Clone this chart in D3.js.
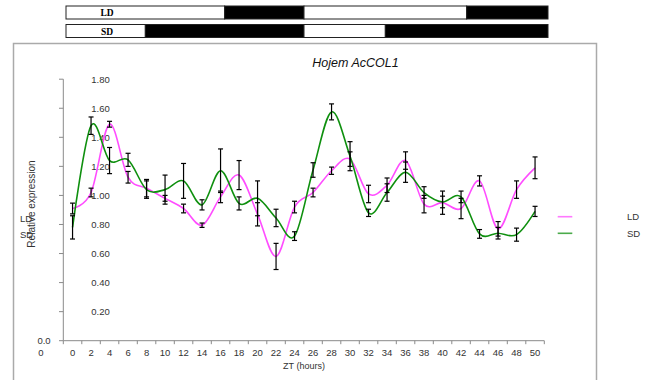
<!DOCTYPE html>
<html>
<head>
<meta charset="utf-8">
<script src="https://cdn.jsdelivr.net/npm/d3@7"></script>
<style>
  html, body { margin: 0; padding: 0; background: #fff; }
  svg { display: block; font-family: "Liberation Sans", Arial, sans-serif; }
</style>
</head>
<body>
<svg id="chart" width="651" height="380"></svg>
<script>
// Sampling times (ZT, hours)
const zt = [0,2,4,6,8,10,12,14,16,18,20,22,24,26,28,30,32,34,36,38,40,42,44,46,48,50];

// Relative expression, long day (LD) and short day (SD), with error bars
const ldValues = [0.91,1.02,1.49,1.125,1.05,0.98,0.91,0.795,0.99,1.14,0.87,0.58,0.92,1.02,1.17,1.25,1.01,1.07,1.24,0.94,0.95,0.91,1.10,0.77,1.04,1.19];
const ldErrors = [0.037,0.03,0.02,0.04,0.06,0.02,0.03,0.015,0.04,0.10,0.08,0.09,0.04,0.03,0.025,0.05,0.06,0.05,0.06,0.06,0.08,0.07,0.035,0.05,0.06,0.075];
const sdValues = [0.78,1.48,1.24,1.245,1.04,1.04,1.10,0.935,1.17,0.945,0.98,0.845,0.72,1.175,1.575,1.27,0.88,1.02,1.16,1.02,0.955,0.99,0.735,0.74,0.73,0.89];
const sdErrors = [0.08,0.06,0.09,0.045,0.06,0.10,0.12,0.035,0.15,0.045,0.12,0.06,0.03,0.05,0.055,0.10,0.025,0.06,0.07,0.04,0.04,0.04,0.03,0.04,0.045,0.035];

// Y tick labels
const yTicks = [0.20,0.40,0.60,0.80,1.00,1.20,1.40,1.60,1.80];

// Light / dark regimes (hours)
const ldPeriods = [[0,16,"light"],[16,24,"dark"],[24,40,"light"],[40,48,"dark"]];
const sdPeriods = [[0,8,"light"],[8,24,"dark"],[24,32,"light"],[32,48,"dark"]];

const seriesNames = ["LD","SD"];
const seriesColors = ["#ff4dff","#0f900f"];

const svg = d3.select("#chart");

// outer frame
svg.append("path")
  .attr("d","M13.5,390 V43.5 H596.5 V390")
  .attr("fill","none").attr("stroke","#aaa").attr("stroke-width",1.5);

// photoperiod bars
const tScale = d3.scaleLinear().domain([0,24,48]).range([66,304,548]);
function periodBar(periods, y, label) {
  const g = svg.append("g");
  g.selectAll("rect").data(periods).join("rect")
    .attr("x", d => tScale(d[0]))
    .attr("y", y)
    .attr("width", d => tScale(d[1]) - tScale(d[0]))
    .attr("height", 13)
    .attr("fill", d => d[2] === "light" ? "#fff" : "#000")
    .attr("stroke", "#222").attr("stroke-width", 1);
  g.append("text").attr("x", 107).attr("y", y + 10)
    .attr("text-anchor","middle")
    .style("font-family","'Liberation Serif', 'Times New Roman', serif")
    .style("font-weight","bold").style("font-size","9.5px")
    .text(label);
}
periodBar(ldPeriods, 6, "LD");
periodBar(sdPeriods, 24.5, "SD");

// scales
const x = d3.scaleBand().domain(zt).range([63.3, 544.3]);
const y = d3.scaleLinear().domain([0, 1.8]).range([340.7, 79.2]);
const cx = d => x(d) + x.bandwidth() / 2;

const axisColor = "#8a8a8a";
const textColor = "#333";

// y axis
svg.append("line").attr("x1",63.3).attr("x2",63.3).attr("y1",y(1.8)).attr("y2",y(0))
  .attr("stroke",axisColor).attr("stroke-width",1);
svg.append("g").selectAll("line").data([0].concat(yTicks)).join("line")
  .attr("x1",59).attr("x2",63.3)
  .attr("y1",d => y(d)).attr("y2",d => y(d))
  .attr("stroke",axisColor);
svg.append("g").selectAll("text").data(yTicks).join("text")
  .attr("x",100.5).attr("y",d => y(d) + 3.3)
  .attr("text-anchor","middle")
  .attr("fill",textColor).style("font-size","9.5px")
  .text(d => d.toFixed(2));
svg.append("text").attr("x",44).attr("y",344).attr("text-anchor","middle")
  .attr("fill",textColor).style("font-size","9.5px").text("0.0");

// x axis
svg.append("line").attr("x1",63.3).attr("x2",544.3).attr("y1",y(0)).attr("y2",y(0))
  .attr("stroke",axisColor);
svg.append("g").selectAll("line").data(zt.concat(["end"])).join("line")
  .attr("x1",(d,i) => 63.3 + i * x.bandwidth())
  .attr("x2",(d,i) => 63.3 + i * x.bandwidth())
  .attr("y1",y(0)).attr("y2",y(0) + 3.5)
  .attr("stroke",axisColor);
svg.append("g").selectAll("text").data(zt).join("text")
  .attr("x",d => cx(d)).attr("y",355.5)
  .attr("text-anchor","middle")
  .attr("fill",textColor).style("font-size","9.5px")
  .text(d => d);
svg.append("text").attr("x",41).attr("y",355.5).attr("text-anchor","middle")
  .attr("fill",textColor).style("font-size","9.5px").text("0");

svg.append("text").attr("x",304).attr("y",368.5).attr("text-anchor","middle")
  .attr("fill",textColor).style("font-size","9px").text("ZT (hours)");

svg.append("text")
  .attr("transform","translate(35,204) rotate(-90)")
  .attr("text-anchor","middle")
  .attr("fill",textColor).style("font-size","10px")
  .text("Relative expression");

// title
svg.append("text").attr("x",355.5).attr("y",66.5).attr("text-anchor","middle")
  .attr("fill","#111").style("font-size","12.5px").style("font-style","italic")
  .text("Hojem AcCOL1");

// left series labels
seriesNames.forEach((n,i) => {
  svg.append("text").attr("x",20).attr("y",221.5 + i * 16.5)
    .attr("fill",textColor).style("font-size","9.5px").text(n);
});

// series
const series = [
  {name:"LD", values: ldValues, errors: ldErrors, color: seriesColors[0]},
  {name:"SD", values: sdValues, errors: sdErrors, color: seriesColors[1]}
];

const line = d3.line()
  .x((d,i) => cx(zt[i]))
  .y(d => y(d))
  .curve(d3.curveCardinal.tension(0));

series.forEach(s => {
  svg.append("path").datum(s.values)
    .attr("d", line)
    .attr("fill","none").attr("stroke",s.color).attr("stroke-width",1.6);
});

// error bars
series.forEach(s => {
  const g = svg.append("g").attr("stroke","#000").attr("stroke-width",1.2);
  s.values.forEach((v,i) => {
    const xc = cx(zt[i]);
    const y1 = y(v + s.errors[i]), y2 = y(v - s.errors[i]);
    g.append("line").attr("x1",xc).attr("x2",xc).attr("y1",y1).attr("y2",y2);
    g.append("line").attr("x1",xc-2.5).attr("x2",xc+2.5).attr("y1",y1).attr("y2",y1);
    g.append("line").attr("x1",xc-2.5).attr("x2",xc+2.5).attr("y1",y2).attr("y2",y2);
  });
});

// legend
series.forEach((s,i) => {
  const ly = 216.7 + i * 16.6;
  svg.append("line").attr("x1",557.7).attr("x2",572.3).attr("y1",ly).attr("y2",ly)
    .attr("stroke",s.color).attr("stroke-width",1.6).attr("opacity",0.75);
  svg.append("text").attr("x",627).attr("y",ly + 3.5)
    .attr("fill",textColor).style("font-size","9.5px").text(s.name);
});
</script>
</body>
</html>
